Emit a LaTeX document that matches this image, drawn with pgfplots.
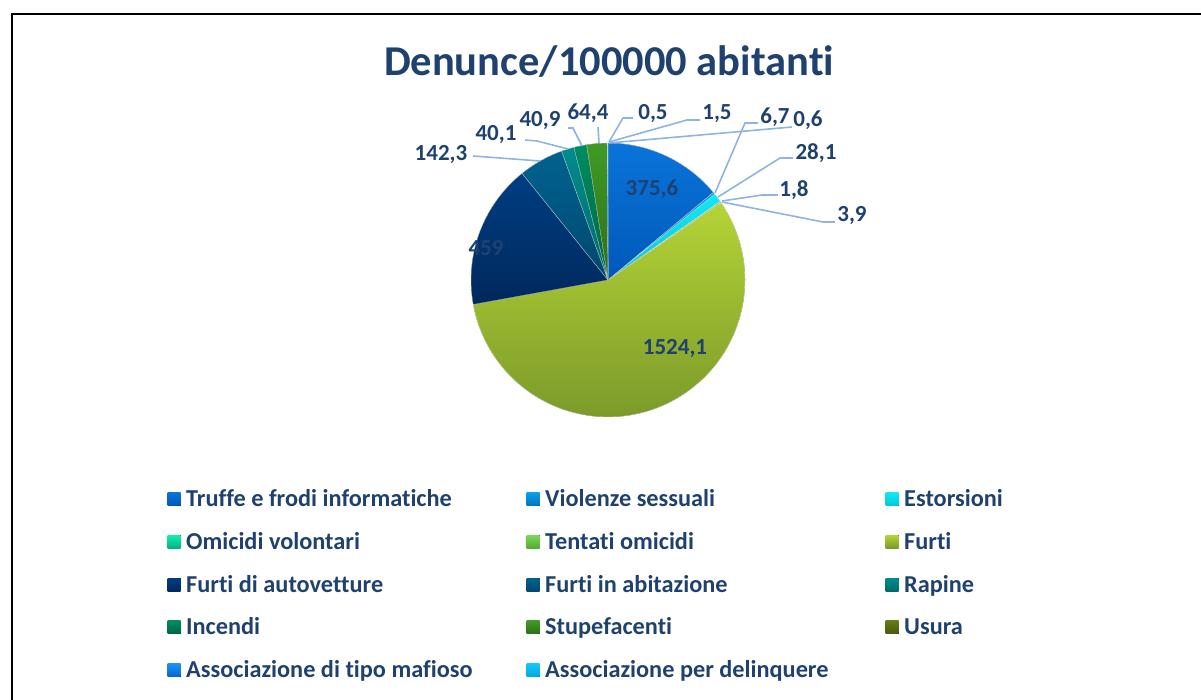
\documentclass[border=0pt]{standalone}
\usepackage{pgfplots}
\pgfplotsset{compat=1.18}
\usepackage{pgfplotstable}
\usepackage{fontspec}
\setmainfont{Carlito}[Ligatures={NoCommon}]

\definecolor{txt}{HTML}{1F4170}
\definecolor{lead}{HTML}{8DB4E2}
% light / dark end of each slice gradient
\definecolor{c0a}{HTML}{0A74DA}\definecolor{c0b}{HTML}{0058B8}
\definecolor{c1a}{HTML}{0AA0E6}\definecolor{c1b}{HTML}{0075C0}
\definecolor{c2a}{HTML}{10E8F5}\definecolor{c2b}{HTML}{00C8DA}
\definecolor{c3a}{HTML}{10F0B0}\definecolor{c3b}{HTML}{00B080}
\definecolor{c4a}{HTML}{78D855}\definecolor{c4b}{HTML}{58A838}
\definecolor{c5a}{HTML}{B4D436}\definecolor{c5b}{HTML}{7A982A}
\definecolor{c6a}{HTML}{003E82}\definecolor{c6b}{HTML}{00285C}
\definecolor{c7a}{HTML}{006290}\definecolor{c7b}{HTML}{004870}
\definecolor{c8a}{HTML}{008C8E}\definecolor{c8b}{HTML}{006A6C}
\definecolor{c9a}{HTML}{008C62}\definecolor{c9b}{HTML}{006640}
\definecolor{c10a}{HTML}{409A25}\definecolor{c10b}{HTML}{2E6E15}
\definecolor{c11a}{HTML}{667C18}\definecolor{c11b}{HTML}{4A5810}
\definecolor{c12a}{HTML}{2090F5}\definecolor{c12b}{HTML}{0068D0}
\definecolor{c13a}{HTML}{10C8F8}\definecolor{c13b}{HTML}{00A8E0}

% name; value; label text; label position (x, y from top)
\pgfplotstableread[col sep=semicolon]{
name;value;lab;lx;ly
Truffe e frodi informatiche;375.6;375,6;652;189
Violenze sessuali;6.7;6,7;775;117
Estorsioni;28.1;28,1;816;153
Omicidi volontari;1.8;1,8;794;190
Tentati omicidi;3.9;3,9;852;215
Furti;1524.1;1524,1;675;347
Furti di autovetture;459;459;486;249
Furti in abitazione;142.3;142,3;441;154
Rapine;40.1;40,1;496;134
Incendi;40.9;40,9;540;120
Stupefacenti;64.4;64,4;588;113
Usura;0.5;0,5;653;113
Associazione di tipo mafioso;1.5;1,5;717;113
Associazione per delinquere;0.6;0,6;808;120
}\piedata

\def\total{0}
\pgfplotsforeachungrouped \i in {0,...,13}{%
  \pgfplotstablegetelem{\i}{value}\of\piedata
  \pgfmathsetmacro\total{\total+\pgfplotsretval}}

\begin{document}
\begin{tikzpicture}
\begin{axis}[x=1pt, y=1pt, xmin=0, xmax=1201, ymin=0, ymax=700,
  y dir=reverse, hide axis, clip=false]

% frame
\addplot[black, line width=1.8pt] coordinates {(12,720) (12,14) (1230,14)};

% title
\node[font=\fontsize{42.5}{46}\selectfont\bfseries, text=txt] at (axis cs:609,62) {Denunce/100000 abitanti};

% slices, clockwise from 12 o'clock
\def\cum{0}
\pgfplotsforeachungrouped \i in {0,...,13}{%
  \pgfplotstablegetelem{\i}{value}\of\piedata
  \let\v\pgfplotsretval
  \pgfmathsetmacro\a{90-360*(\cum/\total)}
  \pgfmathsetmacro\cum{\cum+\v}
  \pgfmathsetmacro\b{90-360*(\cum/\total)}
  \edef\temp{\noexpand\fill[top color=c\i a, bottom color=c\i b, draw=white, line width=0.2pt]
    (axis cs:608,280) -- ++(\a:137pt) arc[start angle=\a, end angle=\b, radius=137pt] -- cycle;}
  \temp
}

% leader lines
\addplot[lead, line width=1.6pt] coordinates {(758,123) (745,123) (715,193)};
\addplot[lead, line width=1.6pt] coordinates {(793,158) (780,158) (718,197)};
\addplot[lead, line width=1.6pt] coordinates {(778,195) (762,195) (722,201)};
\addplot[lead, line width=1.6pt] coordinates {(835,222) (823,222) (722,202)};
\addplot[lead, line width=1.6pt] coordinates {(473,156) (540,161)};
\addplot[lead, line width=1.6pt] coordinates {(525,140) (537,141) (568,149)};
\addplot[lead, line width=1.6pt] coordinates {(568,128) (573,128) (582,146)};
\addplot[lead, line width=1.6pt] coordinates {(598,127) (599,143)};
\addplot[lead, line width=1.6pt] coordinates {(633,118) (623,118) (609,142)};
\addplot[lead, line width=1.6pt] coordinates {(700,120) (687,120) (609,142)};
\addplot[lead, line width=1.6pt] coordinates {(792,127) (609,143)};

% data labels and legend (text placed on its baseline)
\pgfplotsforeachungrouped \i in {0,...,13}{%
  \pgfplotstablegetelem{\i}{lab}\of\piedata \let\lab\pgfplotsretval
  \pgfplotstablegetelem{\i}{lx}\of\piedata \let\lx\pgfplotsretval
  \pgfplotstablegetelem{\i}{ly}\of\piedata \let\ly\pgfplotsretval
  \pgfplotstablegetelem{\i}{name}\of\piedata \let\nm\pgfplotsretval
  \pgfmathtruncatemacro\row{\i/3}
  \pgfmathtruncatemacro\col{mod(\i,3)}
  \pgfmathsetmacro\mx{174+359*\col}
  \pgfmathsetmacro\my{499+42.8*\row}
  \pgfmathsetmacro\lb{\ly+7}
  \pgfmathsetmacro\tb{\my+7.5}
  \pgfmathsetmacro\tx{\mx+12}
  \edef\temp{%
    \noexpand\node[anchor=base, inner sep=0pt, font=\noexpand\fontsize{23}{26}\noexpand\selectfont\noexpand\bfseries, text=txt]
      at (axis cs:\lx,\lb) {\lab};
    \noexpand\fill[top color=c\i a, bottom color=c\i b]
      ([xshift=-6.5pt,yshift=-6.5pt]axis cs:\mx,\my) rectangle ++(13pt,13pt);
    \noexpand\node[anchor=base west, inner sep=0pt, font=\noexpand\fontsize{24.3}{27}\noexpand\selectfont\noexpand\bfseries, text=txt]
      at (axis cs:\tx,\tb) {\nm};}
  \temp
}
\end{axis}
\pgfresetboundingbox
\path[use as bounding box] (current axis.south west) rectangle (current axis.north east);
\end{tikzpicture}
\end{document}
